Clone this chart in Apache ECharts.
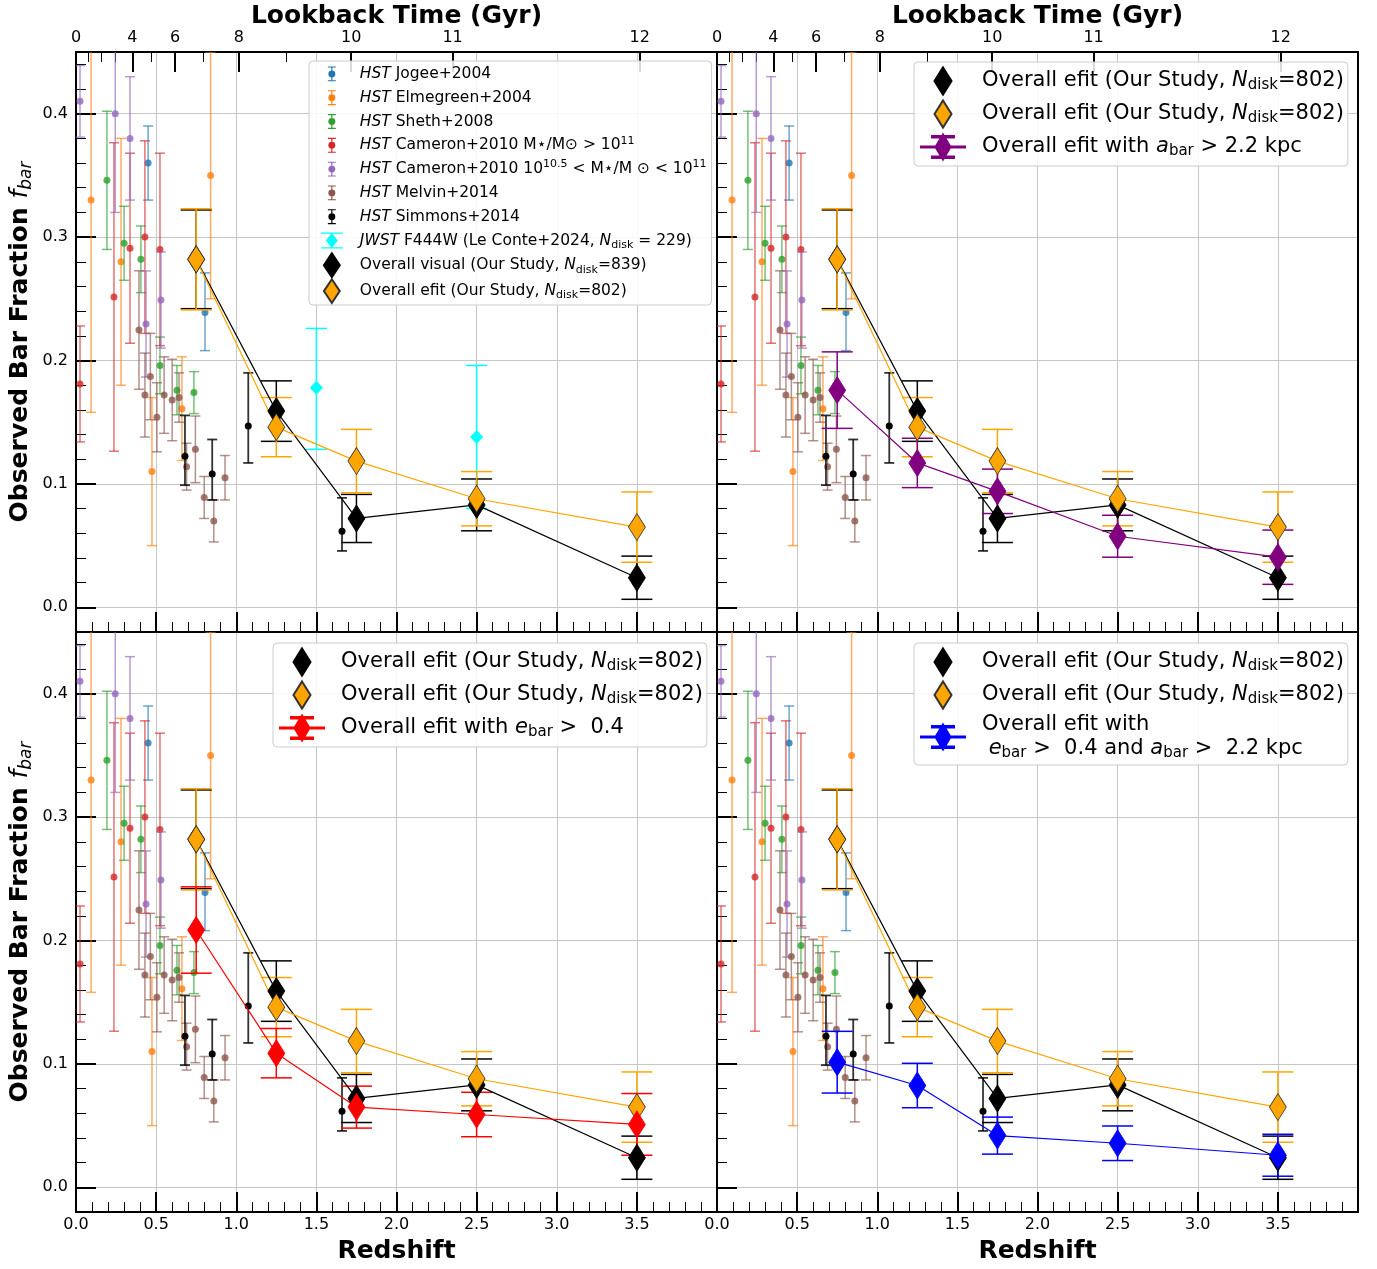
<!DOCTYPE html>
<html><head><meta charset="utf-8">
<script src="https://cdn.jsdelivr.net/npm/echarts@6/dist/echarts.min.js"></script>
<style>html,body{margin:0;padding:0;background:#fff}#chart{width:1377px;height:1269px}</style>
</head><body><div id="chart"></div>
<script>
// ================= DATA =================
const redshiftTicks = [0, 0.5, 1, 1.5, 2, 2.5, 3, 3.5];
const fracTicks = [0, 0.1, 0.2, 0.3, 0.4];
const fracMinorTicks = [0.02,0.04,0.06,0.08,0.12,0.14,0.16,0.18,0.22,0.24,0.26,0.28,0.32,0.34,0.36,0.38,0.42,0.44];
const lookbackGyr = [0, 4, 6, 8, 10, 11, 12];
const lookbackZ = [0, 0.352, 0.619, 1.016, 1.717, 2.35, 3.518];
const lookbackMinorGyr = [1, 2, 3, 5, 7, 9];
const lookbackMinorZ = [0.075, 0.155, 0.245, 0.472, 0.793, 1.31];

// literature points: [redshift, fbar, errLow, errHigh]
const jogee2004 = [[0.45,0.36,0.03,0.03],[0.805,0.239,0.031,0.032]];
const elmegreen2004 = [[0.094,0.33,0.172,0.172],[0.281,0.28,0.10,0.10],[0.474,0.11,0.06,0.06],[0.661,0.161,0.042,0.042],[0.84,0.35,0.10,0.10]];
const sheth2008 = [[0.193,0.346,0.056,0.056],[0.30,0.295,0.03,0.03],[0.405,0.282,0.027,0.027],[0.524,0.196,0.023,0.023],[0.63,0.176,0.02,0.02],[0.736,0.174,0.017,0.017]];
const cameronHigh2010 = [[0.025,0.181,0.047,0.047],[0.237,0.2515,0.125,0.125],[0.337,0.291,0.077,0.077],[0.43,0.30,0.078,0.078],[0.524,0.29,0.078,0.078]];
const cameronLow2010 = [[0.025,0.41,0.029,0.029],[0.245,0.40,0.08,0.08],[0.337,0.38,0.05,0.05],[0.437,0.2296,0.043,0.043],[0.53,0.249,0.039,0.039]];
const melvin2014 = [[0.393,0.2247,0.048,0.048],[0.43,0.172,0.034,0.034],[0.464,0.187,0.035,0.035],[0.505,0.154,0.028,0.028],[0.55,0.172,0.031,0.031],[0.60,0.168,0.033,0.033],[0.643,0.17,0.02,0.02],[0.69,0.114,0.019,0.019],[0.745,0.128,0.027,0.027],[0.80,0.089,0.017,0.017],[0.86,0.070,0.017,0.017],[0.93,0.105,0.018,0.018]];
const simmons2014 = [[0.68,0.1225,0.0235,0.033],[0.85,0.108,0.021,0.028],[1.075,0.147,0.030,0.043],[1.66,0.0617,0.016,0.027]];
const leConte2024 = [[1.5,0.178,0.05,0.048],[2.5,0.138,0.058,0.058]];

// our study
const ourZ = [0.75, 1.25, 1.75, 2.5, 3.5];
const visualF = [0.282, 0.159, 0.072, 0.083, 0.024];
const visualErr = [0.04, 0.0245, 0.0195, 0.021, 0.0175];
const efitF = [0.282, 0.146, 0.1185, 0.088, 0.065];
const efitErr = [0.041, 0.024, 0.0257, 0.022, 0.0285];
const abarF = [0.176, 0.117, 0.094, 0.0576, 0.0406];
const abarErr = [0.031, 0.02, 0.018, 0.017, 0.022];
const ebarF = [0.2085, 0.1087, 0.065, 0.059, 0.051];
const ebarErr = [0.035, 0.02, 0.017, 0.018, 0.025];
const bothF = [0.1014, 0.0825, 0.0419, 0.0357, 0.026];
const bothErr = [0.025, 0.018, 0.015, 0.014, 0.017];

// ================= STYLE / BUILD =================
const FONT = 'DejaVu Sans';
const litStyles = [
  {name:'Jogee', data:jogee2004, color:'#1f77b4'},
  {name:'Elmegreen', data:elmegreen2004, color:'#ff7f0e'},
  {name:'Sheth', data:sheth2008, color:'#2ca02c'},
  {name:'CamHi', data:cameronHigh2010, color:'#d62728'},
  {name:'CamLo', data:cameronLow2010, color:'#9467bd'},
  {name:'Melvin', data:melvin2014, color:'#8c564b'},
];

function ourRows(f, e) { return ourZ.map((z, i) => [z, f[i], e[i], e[i]]); }
function ourPts(f) { return ourZ.map((z, i) => [z, f[i]]); }

function errSeries(name, data, o, xi, yi) {
  return {
    type: 'custom', name, xAxisIndex: xi, yAxisIndex: yi, clip: true,
    data, encode: {x: 0, y: 1}, silent: true,
    itemStyle: {color: o.legendColor || o.color},
    renderItem(params, api) {
      const z = api.value(0), f = api.value(1), lo = api.value(2), hi = api.value(3);
      const c = api.coord([z, f]), t = api.coord([z, f + hi]), b = api.coord([z, f - lo]);
      const hw = o.cap / 2;
      const ls = {stroke: o.color, lineWidth: o.lw, opacity: o.lineOpacity};
      const ch = [
        {type:'line', shape:{x1:c[0], y1:t[1], x2:c[0], y2:b[1]}, style: ls},
        {type:'line', shape:{x1:c[0]-hw, y1:t[1], x2:c[0]+hw, y2:t[1]}, style: ls},
        {type:'line', shape:{x1:c[0]-hw, y1:b[1], x2:c[0]+hw, y2:b[1]}, style: ls},
      ];
      if (o.dot) ch.push({type:'circle', shape:{cx:c[0], cy:c[1], r:o.dot}, style:{fill:o.color, opacity:o.dotOpacity}});
      if (o.diamond) {
        const w = o.diamond[0] / 2, h = o.diamond[1] / 2;
        ch.push({type:'polygon', shape:{points:[[c[0], c[1]-h],[c[0]+w, c[1]],[c[0], c[1]+h],[c[0]-w, c[1]]]}, style:{fill:o.color}});
      }
      return {type:'group', children: ch};
    }
  };
}
function lineSeries(name, f, color, border, xi, yi) {
  return {
    type:'line', name, xAxisIndex: xi, yAxisIndex: yi, data: ourPts(f),
    symbol:'diamond', symbolSize:[17, 27], silent: true,
    lineStyle:{color, width:1.2}, itemStyle:{color, borderColor: border, borderWidth: 0.8},
  };
}
const ourErrOpt = c => ({color:c, lw:1.5, cap:31, lineOpacity:1});

const panels = [
  {left:76, top:52, yLab:true, xLab:false, lookback:true, extra:null},
  {left:717, top:52, yLab:false, xLab:false, lookback:true, extra:{name:'Abar', f:abarF, e:abarErr, color:'#800080'}},
  {left:76, top:632, yLab:true, xLab:true, lookback:false, extra:{name:'Ebar', f:ebarF, e:ebarErr, color:'#ff0000'}},
  {left:717, top:632, yLab:false, xLab:true, lookback:false, extra:{name:'Both', f:bothF, e:bothErr, color:'#0000ff'}},
];

const grids = [], xAxes = [], yAxes = [], series = [];
const spine = {show:true, onZero:false, lineStyle:{color:'#000', width:2}};
const majTick = (cv) => ({show:true, inside:true, length:20, lineStyle:{color:'#000', width:2}, ...(cv ? {customValues: cv} : {})});
const minTick = (cv) => ({show:true, inside:true, length:10, lineStyle:{color:'#000', width:1}, customValues: cv});
const gridLine = {show:true, lineStyle:{color:'#c6c6c6', width:1}};

panels.forEach((p, gi) => {
  grids.push({left:p.left, top:p.top, width:641, height:580, containLabel:false});
  const xi = xAxes.length;
  xAxes.push({type:'value', gridIndex:gi, position:'bottom', min:0, max:4, interval:0.5,
    axisLine: spine, axisTick: majTick(), splitLine: gridLine,
    minorTick:{show:true, splitNumber:5, length:10, lineStyle:{color:'#000', width:1}},
    axisLabel:{show:p.xLab, customValues:redshiftTicks, formatter:v => v.toFixed(1), fontSize:16, color:'#000', margin:5, fontFamily:FONT},
    name: p.xLab ? 'Redshift' : '', nameLocation:'middle', nameGap:27,
    nameTextStyle:{fontSize:25, fontWeight:'bold', color:'#000', fontFamily:FONT}});
  if (p.lookback) {
    xAxes.push({type:'value', gridIndex:gi, position:'top', min:0, max:4,
      axisLine: spine, axisTick: majTick(lookbackZ), splitLine:{show:false},
      axisLabel:{show:true, customValues:lookbackZ, fontSize:16, color:'#000', margin:6, fontFamily:FONT,
        formatter: v => { const i = lookbackZ.findIndex(z => Math.abs(z - v) < 1e-6); return i >= 0 ? String(lookbackGyr[i]) : ''; }},
      name:'Lookback Time (Gyr)', nameLocation:'middle', nameGap:22,
      nameTextStyle:{fontSize:25, fontWeight:'bold', color:'#000', fontFamily:FONT}});
    xAxes.push({type:'value', gridIndex:gi, position:'top', min:0, max:4,
      axisLine:{show:false, onZero:false}, axisTick: minTick(lookbackMinorZ), splitLine:{show:false}, axisLabel:{show:false}});
  } else {
    xAxes.push({type:'value', gridIndex:gi, position:'top', min:0, max:4, interval:0.5,
      axisLine: spine, axisTick:{show:false}, splitLine:{show:false}, axisLabel:{show:false}});
  }
  const yi = yAxes.length;
  const yBase = {type:'value', gridIndex:gi, min:-0.02, max:0.45, minInterval:0.1, maxInterval:0.1};
  yAxes.push({...yBase, position:'left', axisLine: spine, axisTick: majTick(fracTicks), splitLine: gridLine,
    axisLabel:{show:p.yLab, customValues:fracTicks, formatter:v => v.toFixed(1), fontSize:16, color:'#000', margin:8, fontFamily:FONT},
    name: p.yLab ? 'Observed Bar Fraction {f|f}{s|bar}' : '', nameLocation:'middle', nameGap:41,
    nameTextStyle:{fontSize:25, fontWeight:'bold', color:'#000', fontFamily:FONT, lineHeight:30,
      rich:{f:{fontSize:25, fontStyle:'italic', fontWeight:'normal', fontFamily:FONT, color:'#000', lineHeight:30},
            s:{fontSize:17, fontStyle:'italic', fontWeight:'normal', fontFamily:FONT, color:'#000', lineHeight:14, verticalAlign:'bottom'}}}});
  yAxes.push({...yBase, position:'left', axisLine:{show:false, onZero:false}, axisTick: minTick(fracMinorTicks), splitLine:{show:false}, axisLabel:{show:false}});
  yAxes.push({...yBase, position:'right', axisLine: spine, axisTick:{show:false}, splitLine:{show:false}, axisLabel:{show:false}});

  litStyles.forEach(s => series.push(errSeries(s.name, s.data,
    {color:s.color, lw:1.5, cap:10, lineOpacity:0.65, dot:3.5, dotOpacity:0.8, legendColor:s.color}, xi, yi)));
  series.push(errSeries('Simmons', simmons2014, {color:'#000', lw:1.8, cap:10, lineOpacity:0.8, dot:3.5, dotOpacity:1, legendColor:'#000'}, xi, yi));
  if (gi === 0) series.push(errSeries('LeConte', leConte2024, {color:'#00ffff', lw:1.5, cap:21, lineOpacity:1, diamond:[13,14]}, xi, yi));
  const vName = gi === 0 ? 'Visual' : 'VisualB';
  const eName = gi === 0 ? 'Efit' : 'EfitB';
  series.push(errSeries('visErr', ourRows(visualF, visualErr), ourErrOpt('#000'), xi, yi));
  series.push(lineSeries(vName, visualF, '#000', '#000', xi, yi));
  series.push(errSeries('efitErr', ourRows(efitF, efitErr), ourErrOpt('#ffa500'), xi, yi));
  series.push(lineSeries(eName, efitF, '#ffa500', '#333', xi, yi));
  if (p.extra) {
    series.push(errSeries(p.extra.name + 'Err', ourRows(p.extra.f, p.extra.e), ourErrOpt(p.extra.color), xi, yi));
    series.push(lineSeries(p.extra.name, p.extra.f, p.extra.color, p.extra.color, xi, yi));
  }
});

// ---- legend icons ----
const rectP = (x1,y1,x2,y2) => `M${x1},${y1}L${x2},${y1}L${x2},${y2}L${x1},${y2}Z`;
const circP = (cx,cy,r) => `M${cx-r},${cy}A${r},${r},0,1,1,${cx+r},${cy}A${r},${r},0,1,1,${cx-r},${cy}Z`;
const diaP = (cx,cy,w,h) => `M${cx},${cy-h/2}L${cx+w/2},${cy}L${cx},${cy+h/2}L${cx-w/2},${cy}Z`;
const frameP = (W,H) => `M0,0M${W},${H}`;
const iconLit = 'path://' + frameP(42,24) + rectP(15,4.5,23,5.6) + rectP(15,18.4,23,19.5) + rectP(18.4,5,19.6,19) + circP(19,12,3.5);
const iconLeConte = 'path://' + frameP(42,24) + rectP(8,4,30,5.3) + rectP(8,18.7,30,20) + rectP(18.3,4,19.7,20) + diaP(19,12,12,15);
const iconDiaSmall = 'path://' + frameP(42,24) + diaP(19,12,16,24);
const iconDiaBig = 'path://' + frameP(62,28) + diaP(28,14,17,27);
const iconErrLine = 'path://' + frameP(62,28) + rectP(6,13.4,50,14.6) + rectP(17,3,39,4.4) + rectP(17,23.6,39,25) + rectP(27.2,3,28.8,25) + diaP(28,14,15,25);

const legendText = {
  Jogee:'{i|HST} Jogee+2004',
  Elmegreen:'{i|HST} Elmegreen+2004',
  Sheth:'{i|HST} Sheth+2008',
  CamHi:'{i|HST} Cameron+2010 M⋆/M⊙ > 10{sup|11}',
  CamLo:'{i|HST} Cameron+2010 10{sup|10.5} < M⋆/M ⊙ < 10{sup|11}',
  Melvin:'{i|HST} Melvin+2014',
  Simmons:'{i|HST} Simmons+2014',
  LeConte:'{i|JWST} F444W (Le Conte+2024, {i|N}{sub|disk} = 229)',
  Visual:'Overall visual (Our Study, {i|N}{sub|disk}=839)',
  Efit:'Overall efit (Our Study, {i|N}{sub|disk}=802)',
  VisualB:'Overall efit (Our Study, {i|N}{sub|disk}=802)',
  EfitB:'Overall efit (Our Study, {i|N}{sub|disk}=802)',
  Abar:'Overall efit with {i|a}{sub|bar} > 2.2 kpc',
  Ebar:'Overall efit with {i|e}{sub|bar} >  0.4',
  Both:'Overall efit with\n {i|e}{sub|bar} >  0.4 and {i|a}{sub|bar} >  2.2 kpc',
};
function richFor(s, lh) {
  return {
    i:{fontStyle:'italic', fontSize:s, fontFamily:FONT, color:'#000', lineHeight:lh},
    sub:{fontSize:Math.round(s*0.7), fontFamily:FONT, color:'#000', lineHeight:Math.round(s*0.7), verticalAlign:'bottom'},
    sup:{fontSize:Math.round(s*0.7), fontFamily:FONT, color:'#000', lineHeight:Math.round(s*0.7), verticalAlign:'top'},
  };
}
const legendBox = {orient:'vertical', selectedMode:false, backgroundColor:'rgba(255,255,255,0.85)', borderColor:'#cccccc', borderWidth:1, borderRadius:4, formatter: n => legendText[n]};
const bigLegend = (left, top, names, icons) => ({...legendBox, left, top, itemWidth:62, itemHeight:28, itemGap:3, padding:[4,4,4,0],
  textStyle:{fontFamily:FONT, fontSize:21, color:'#000', lineHeight:24, rich: richFor(21, 24)},
  data: names.map((n, i) => ({name:n, icon:icons[i]}))});

const option = {
  animation:false, backgroundColor:'#fff',
  textStyle:{fontFamily:FONT},
  grid: grids, xAxis: xAxes, yAxis: yAxes, series,
  legend: [
    {...legendBox, left:309, top:61, itemWidth:42, itemHeight:23.8, itemGap:0, padding:[1,5,1,3],
      textStyle:{fontFamily:FONT, fontSize:15.5, color:'#000', lineHeight:20, rich: richFor(15.5, 20)},
      data:[
        {name:'Jogee', icon:iconLit},{name:'Elmegreen', icon:iconLit},{name:'Sheth', icon:iconLit},
        {name:'CamHi', icon:iconLit},{name:'CamLo', icon:iconLit},{name:'Melvin', icon:iconLit},
        {name:'Simmons', icon:iconLit},{name:'LeConte', icon:iconLeConte},
        {name:'Visual', icon:iconDiaSmall},{name:'Efit', icon:iconDiaSmall}]},
    bigLegend(914, 62, ['VisualB','EfitB','Abar'], [iconDiaBig, iconDiaBig, iconErrLine]),
    bigLegend(273, 643, ['VisualB','EfitB','Ebar'], [iconDiaBig, iconDiaBig, iconErrLine]),
    bigLegend(914, 643, ['VisualB','EfitB','Both'], [iconDiaBig, iconDiaBig, iconErrLine]),
  ],
};
const chart = echarts.init(document.getElementById('chart'), null, {renderer:'canvas'});
chart.setOption(option);
</script></body></html>
